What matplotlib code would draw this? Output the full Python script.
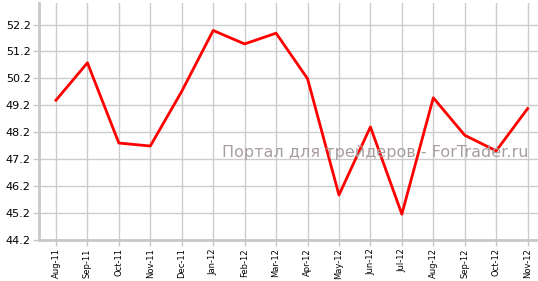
import matplotlib
matplotlib.use("Agg")
import matplotlib.pyplot as plt
import numpy as np

months = ["Aug-11", "Sep-11", "Oct-11", "Nov-11", "Dec-11", "Jan-12", "Feb-12",
          "Mar-12", "Apr-12", "May-12", "Jun-12", "Jul-12", "Aug-12", "Sep-12",
          "Oct-12", "Nov-12"]
values = [49.39, 50.78, 47.80, 47.69, 49.72, 51.98, 51.48, 51.88, 50.19,
          45.87, 48.40, 45.16, 49.48, 48.09, 47.51, 49.08]
yticks = [44.2, 45.2, 46.2, 47.2, 48.2, 49.2, 50.2, 51.2, 52.2]

fig = plt.figure(figsize=(5.38, 2.81), dpi=100)
ax = fig.add_axes([39 / 538, 41 / 281, 1 - 39 / 538, 237 / 281])

x = np.arange(len(months))
ax.plot(x, values, color="#ff0000", lw=2, zorder=3)

ax.set_xlim(-0.54, 15.33)
ax.set_ylim(44.2, 53.0)
ax.set_xticks(x)
ax.set_xticklabels(months, rotation=90, fontsize=6)
ax.set_yticks(yticks)
ax.set_yticklabels([f"{v:.1f}" for v in yticks], fontsize=8)
ax.grid(True, color="#cccccc", lw=1)
ax.set_axisbelow(True)

for s in ["top", "right"]:
    ax.spines[s].set_visible(False)
for s in ["left", "bottom"]:
    ax.spines[s].set_color("#c8c8c8")
    ax.spines[s].set_linewidth(2)
ax.tick_params(axis="both", color="#c8c8c8", length=4, width=1, pad=2)

# watermark
fig.text(222 / 538, 1 - 152 / 281, "Портал для трейдеров - ForTrader.ru",
         fontsize=11.5, color="#a89e9e", ha="left", va="center")

fig.savefig("out.png", dpi=100)
